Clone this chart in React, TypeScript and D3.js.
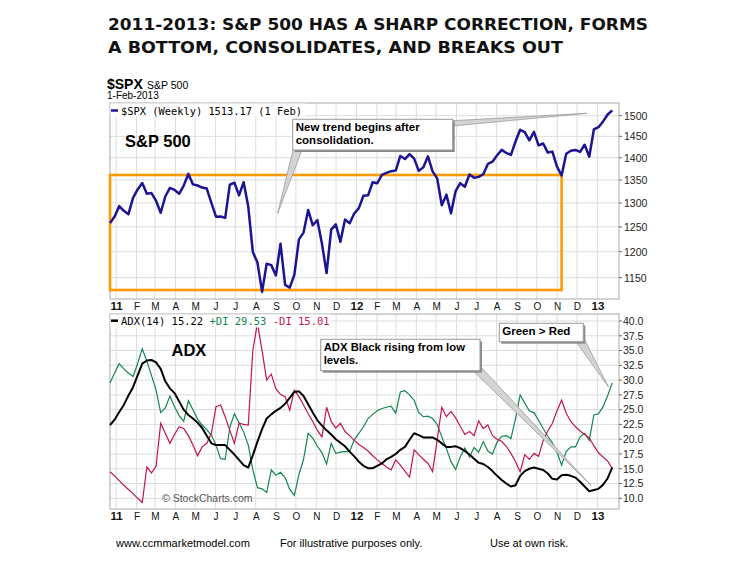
import React from 'react';
import * as d3 from 'd3';

const TITLE_LINES = [
  '2011-2013: S&P 500 HAS A SHARP CORRECTION, FORMS',
  'A BOTTOM, CONSOLIDATES, AND BREAKS OUT',
];

// Weekly closes, 31-Dec-2010 .. 1-Feb-2013
const SPX_CLOSE = [
  1257.64,
  1271.5, 1293.24, 1283.35, 1276.34, 1310.87, 1329.15, 1343.01, 1319.88, 1321.15, 1304.28, 1279.21, 1313.8,
  1332.41, 1328.17, 1319.68, 1337.38, 1363.61, 1340.2, 1337.77, 1333.27, 1331.1, 1300.16, 1270.98, 1271.5,
  1268.45, 1339.67, 1343.8, 1316.14, 1345.02, 1292.28, 1199.38, 1178.81, 1123.53, 1176.8, 1173.97, 1154.23,
  1216.01, 1136.43, 1131.42, 1155.46, 1224.58, 1238.25, 1285.09, 1253.23, 1263.85, 1215.65, 1158.67, 1244.28,
  1255.19, 1219.66, 1265.33, 1257.6,
  1277.81, 1289.09, 1315.38, 1316.33, 1344.9, 1342.64, 1361.23, 1365.74, 1369.63, 1370.87, 1404.17, 1397.11,
  1408.47, 1398.08, 1370.26, 1378.53, 1403.36, 1369.1, 1353.39, 1295.22, 1317.82, 1278.04, 1325.66, 1342.84,
  1335.02, 1362.16, 1354.68, 1356.78, 1362.66, 1385.97, 1390.99, 1405.87, 1418.16, 1411.13, 1406.58, 1437.92,
  1465.77, 1460.15, 1440.67, 1460.93, 1428.59, 1433.19, 1411.94, 1414.2, 1379.85, 1359.88, 1409.15, 1416.18,
  1418.07, 1413.58, 1430.15, 1402.43,
  1466.47, 1472.05, 1485.98, 1502.96, 1513.17,
];

const ADX = [
  22.4, 23.3, 24.6, 25.8, 27.4, 28.8, 30.8, 32.8, 33.3, 33.4, 33.0, 31.9, 29.8, 28.6, 27.8, 26.4, 25.0, 24.1,
  23.5, 22.8, 21.9, 20.6, 19.3, 19.0, 19.0, 19.0, 18.2, 17.4, 16.5, 15.6, 15.2, 17.3, 19.6, 21.7, 23.5, 24.2,
  24.8, 25.3, 26.0, 27.0, 28.0, 28.1, 27.3, 25.9, 24.5, 23.2, 22.3, 21.5, 20.8, 20.0, 19.4, 18.8, 17.9, 17.1,
  16.2, 15.5, 15.1, 15.1, 15.5, 15.9, 16.6, 17.0, 17.5, 18.2, 18.7, 19.9, 21.0, 20.7, 20.3, 20.3, 20.3, 19.9,
  19.3, 18.7, 18.7, 18.8, 18.5, 18.0, 17.4, 16.7, 16.0, 15.8, 15.3, 14.6, 13.8, 13.1, 12.5, 12.0, 12.2, 13.8,
  14.6, 15.0, 15.2, 15.0, 14.8, 14.2, 13.3, 13.2, 13.9, 14.0, 13.8, 13.5, 12.8, 12.0, 11.2, 11.4, 11.6, 12.3,
  13.4, 15.22,
];

const PLUS_DI = [
  29.5, 31.2, 32.8, 31.9, 31.2, 30.6, 32.8, 35.3, 33.2, 30.8, 28.3, 24.5, 25.3, 27.3, 25.5, 24.0, 23.0, 26.5,
  25.0, 23.4, 22.4, 21.6, 20.7, 19.0, 16.7, 16.6, 22.0, 24.3, 22.8, 21.2, 19.0, 14.8, 11.8, 11.6, 11.0, 14.8,
  13.9, 14.4, 13.5, 11.5, 10.5, 14.0, 16.6, 21.0, 20.2, 18.8, 17.7, 15.8, 19.3, 17.6, 17.8, 17.9, 17.9, 19.9,
  21.0, 22.1, 23.5, 24.2, 24.8, 25.2, 25.4, 25.6, 24.4, 28.0, 28.2, 27.5, 26.6, 24.5, 23.8, 23.9, 23.5, 22.5,
  20.4, 18.4, 16.2, 14.9, 17.0, 18.5, 17.0, 18.6, 17.8, 19.6, 18.0, 17.5, 19.5, 20.5, 20.6, 20.1, 23.5, 27.5,
  26.1, 24.8, 24.5, 23.2, 21.8, 20.5, 19.4, 17.8, 15.6, 17.9, 18.7, 18.7, 20.4, 21.0, 19.8, 24.1, 24.3, 25.5,
  27.4, 29.53,
];

const MINUS_DI = [
  14.5, 13.8, 13.0, 12.2, 11.5, 10.8, 10.0, 9.3, 15.3, 14.3, 15.4, 22.7, 21.0, 19.3, 20.8, 22.1, 21.8, 20.6,
  19.0, 17.2, 18.7, 19.3, 21.0, 25.5, 25.8, 23.8, 21.5, 19.3, 22.7, 22.5, 22.4, 35.1, 39.6, 35.0, 30.0, 31.0,
  28.5, 27.6, 27.2, 24.9, 28.3, 27.2, 25.8, 24.3, 23.0, 21.5, 20.4, 25.4, 23.0, 21.9, 22.7, 21.3, 20.6, 19.8,
  19.1, 18.6, 18.0, 17.2, 16.5, 15.9, 15.3, 14.8, 16.5, 15.6, 14.6, 13.6, 18.2, 17.4, 16.6, 15.9, 14.5, 19.9,
  25.4, 23.8, 24.7, 23.6, 22.2, 20.8, 21.3, 20.6, 23.1, 21.8, 22.4, 20.6, 20.0, 19.6, 18.8, 17.6, 16.2, 14.5,
  17.4, 16.6, 17.6, 17.1, 19.8, 21.4, 22.7, 24.8, 26.6, 24.4, 23.0, 22.1, 21.4, 20.8, 20.2, 18.9, 17.7, 17.0,
  16.3, 15.01,
];

const MONTH_LABELS = ['11', 'F', 'M', 'A', 'M', 'J', 'J', 'A', 'S', 'O', 'N', 'D',
  '12', 'F', 'M', 'A', 'M', 'J', 'J', 'A', 'S', 'O', 'N', 'D', '13'];
const SPX_TICKS = [1150, 1200, 1250, 1300, 1350, 1400, 1450, 1500];
const ADX_TICKS = [10, 12.5, 15, 17.5, 20, 22.5, 25, 27.5, 30, 32.5, 35, 37.5, 40];
const FOOTER = ['www.ccmmarketmodel.com', 'For illustrative purposes only.', 'Use at own risk.'];

const START = new Date(2010, 11, 31);
const END = new Date(2013, 1, 1);
const CONSOL_END = new Date(2012, 10, 16);
const CONSOL_HIGH = 1361;
const CONSOL_LOW = 1127;

const SANS = "'Liberation Sans', Arial, sans-serif";
const MONO = "'DejaVu Sans Mono', monospace";

const SPX_COLOR = '#1c1494';
const GREEN = '#13864e';
const RED = '#c4164c';
const ORANGE = '#ff9900';
const GRID = '#dddddd';
const FRAME = '#a8a8a8';

const L = 110, R = 619;
const TOP1 = 103, BOT1 = 299;
const TOP2 = 314, BOT2 = 509;

function Callout({ x, y, w, h, lines, size = 11.5 }: { x: number; y: number; w: number; h: number; lines: string[]; size?: number }) {
  return (
    <g>
      <rect x={x + 2} y={y + 2} width={w} height={h} fill="#8a8a8a" />
      <rect x={x} y={y} width={w} height={h} fill="#ffffff" stroke="#9a9a9a" strokeWidth={1} />
      {lines.map((t, i) => (
        <text key={i} x={x + 3} y={y + 12 + i * 13} fontFamily={SANS} fontWeight="bold" fontSize={size} fill="#000">
          {t}
        </text>
      ))}
    </g>
  );
}

function Pointer({ pts }: { pts: [number, number][] }) {
  return <polygon points={pts.map((p) => p.join(',')).join(' ')} fill="#d4d4d4" stroke="#9a9a9a" strokeWidth={0.8} />;
}

export default function App() {
  const weeks = d3.timeFriday.range(START, d3.timeDay.offset(END, 1));
  const x = d3.scaleTime().domain([START, END]).range([L, 612.3]);
  const y1 = d3.scaleLog().domain([1150, 1500]).range([277.7, 115.7]);
  const y2 = d3.scaleLinear().domain([10, 40]).range([498.3, 321]);
  const months = d3.timeMonth.range(new Date(2011, 0, 1), new Date(2013, 0, 2));
  const gx = (d: Date) => x(d) + 5.5;

  const spxLine = d3.line<number>().x((_, i) => x(weeks[i])).y((v) => y1(v));
  const ind = d3.line<number>().x((_, i) => x(weeks[i])).y((v) => y2(v));

  const axisLabels = (base: number) =>
    months.map((m, i) => {
      const lab = MONTH_LABELS[i];
      const year = /\d/.test(lab);
      return (
        <text key={i} x={gx(m) + 0.5} y={base} textAnchor="middle" fontFamily={SANS}
          fontSize={year ? 11.5 : 10} fontWeight={year ? 'bold' : 'normal'} fill="#111">
          {lab}
        </text>
      );
    });

  return (
    <svg width={749} height={566} style={{ position: 'absolute', left: 0, top: 0, background: '#fff' }}>
      <rect x={0} y={0} width={749} height={566} fill="#fff" />
      {TITLE_LINES.map((t, i) => (
        <text key={i} x={108} y={30 + i * 23.3} fontFamily="'DejaVu Sans', sans-serif" fontWeight="bold"
          fontSize={16.5} fill="#111" textLength={i === 0 ? 540 : 455} lengthAdjust="spacingAndGlyphs">
          {t}
        </text>
      ))}

      {/* header */}
      <text x={107} y={88.5} fontFamily={SANS} fontWeight="bold" fontSize={14} fill="#000">$SPX</text>
      <text x={147} y={88.5} fontFamily={SANS} fontSize={10.5} fill="#000">S&amp;P 500</text>
      <text x={107} y={99} fontFamily={SANS} fontSize={10} fill="#000">1-Feb-2013</text>

      {/* top panel grid */}
      {months.map((m, i) => (
        <line key={'v1' + i} x1={gx(m)} x2={gx(m)} y1={TOP1} y2={BOT1} stroke={GRID} />
      ))}
      {SPX_TICKS.map((t) => (
        <line key={'h1' + t} x1={L} x2={R} y1={y1(t)} y2={y1(t)} stroke={GRID} />
      ))}
      <rect x={L} y={TOP1} width={R - L} height={BOT1 - TOP1} fill="none" stroke={FRAME} />
      {SPX_TICKS.map((t) => (
        <g key={'t1' + t}>
          <line x1={R} x2={R + 3} y1={y1(t)} y2={y1(t)} stroke="#666" />
          <text x={R + 5} y={y1(t) + 3.8} fontFamily={SANS} fontSize={10.5} fill="#222">{t}</text>
        </g>
      ))}

      {/* legend top */}
      <rect x={L + 0.5} y={TOP1 + 0.5} width={195} height={13} fill="#fff" />
      <line x1={111} x2={118} y1={110.5} y2={110.5} stroke={SPX_COLOR} strokeWidth={2.5} />
      <text x={121} y={114.5} fontFamily={MONO} fontSize={10.5} fill="#000" textLength={181} lengthAdjust="spacingAndGlyphs">
        $SPX (Weekly) 1513.17 (1 Feb)
      </text>

      {/* consolidation rectangle */}
      <rect x={x(START)} y={y1(CONSOL_HIGH)} width={x(CONSOL_END) - x(START)} height={y1(CONSOL_LOW) - y1(CONSOL_HIGH)}
        fill="none" stroke={ORANGE} strokeWidth={2.6} />

      <path d={spxLine(SPX_CLOSE) || ''} fill="none" stroke={SPX_COLOR} strokeWidth={2.5} strokeLinejoin="round" />

      <text x={125} y={147} fontFamily={SANS} fontWeight="bold" fontSize={16.5} fill="#000">S&amp;P 500</text>

      {/* callout 1 */}
      <Pointer pts={[[293, 150], [302, 150], [277.7, 213.3]]} />
      <Pointer pts={[[452.7, 120.7], [452.7, 126], [586.7, 113.3]]} />
      <Callout x={292.7} y={119.3} w={160} h={30.7} lines={['New trend begins after', 'consolidation.']} />

      {axisLabels(309.5)}

      {/* bottom panel grid */}
      {months.map((m, i) => (
        <line key={'v2' + i} x1={gx(m)} x2={gx(m)} y1={TOP2} y2={BOT2} stroke={GRID} />
      ))}
      {ADX_TICKS.map((t) => (
        <line key={'h2' + t} x1={L} x2={R} y1={y2(t)} y2={y2(t)} stroke={GRID} />
      ))}
      <rect x={L} y={TOP2} width={R - L} height={BOT2 - TOP2} fill="none" stroke={FRAME} />
      {ADX_TICKS.map((t) => (
        <g key={'t2' + t}>
          <line x1={R} x2={R + 3} y1={y2(t)} y2={y2(t)} stroke="#666" />
          <text x={R + 4} y={y2(t) + 3.8} fontFamily={SANS} fontSize={10.5} fill="#222">{d3.format('.1f')(t)}</text>
        </g>
      ))}

      <text x={162} y={502} fontFamily={SANS} fontSize={10.5} fill="#555">© StockCharts.com</text>

      <path d={ind(PLUS_DI) || ''} fill="none" stroke={GREEN} strokeWidth={1.2} />
      <path d={ind(MINUS_DI) || ''} fill="none" stroke={RED} strokeWidth={1.2} />
      <path d={ind(ADX) || ''} fill="none" stroke="#000" strokeWidth={2} strokeLinejoin="round" />

      {/* legend bottom */}
      <rect x={L + 0.5} y={TOP2 + 0.5} width={220} height={13} fill="#fff" />
      <line x1={111} x2={118} y1={320.7} y2={320.7} stroke="#000" strokeWidth={2.5} />
      <text x={121} y={324.8} fontFamily={MONO} fontSize={10.5}>
        <tspan fill="#000">ADX(14) 15.22 </tspan>
        <tspan fill={GREEN}>+DI 29.53 </tspan>
        <tspan fill={RED}>-DI 15.01</tspan>
      </text>

      <text x={171.5} y={356} fontFamily={SANS} fontWeight="bold" fontSize={16.5} fill="#000">ADX</text>

      {/* callouts bottom */}
      <Pointer pts={[[473, 370.7], [480, 366], [590.7, 485]]} />
      <Callout x={320.7} y={339.3} w={159.3} h={31.4} lines={['ADX Black rising from low', 'levels.']} size={11.3} />
      <Pointer pts={[[576, 341.7], [583.3, 337], [608.3, 386.7]]} />
      <Callout x={499.3} y={323.3} w={84} h={18.4} lines={['Green > Red']} />

      {axisLabels(519.5)}

      {/* footer */}
      <text x={116} y={547} fontFamily={SANS} fontSize={11} fill="#000">{FOOTER[0]}</text>
      <text x={280} y={547} fontFamily={SANS} fontSize={11} fill="#000">{FOOTER[1]}</text>
      <text x={490} y={547} fontFamily={SANS} fontSize={11} fill="#000">{FOOTER[2]}</text>
    </svg>
  );
}
